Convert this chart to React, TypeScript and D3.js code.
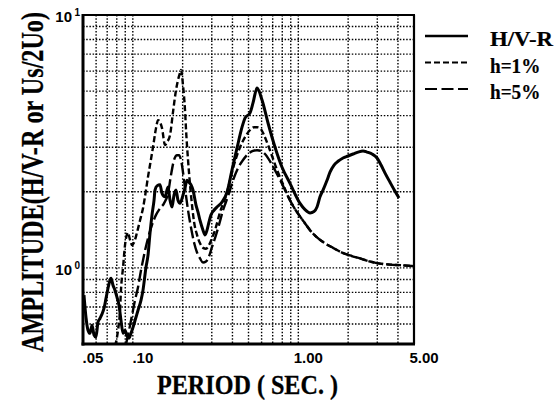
import React from "react";
import * as d3 from "d3";

// ---- Data (period in seconds, amplitude ratio) ----
const hvrPeriods = [
  0.0507, 0.0522, 0.0536, 0.0551, 0.0567, 0.0583, 0.0599, 0.0616, 0.0634, 0.0651,
  0.067, 0.0689, 0.0708, 0.0728, 0.0738, 0.0759, 0.078, 0.0802, 0.0825, 0.0848,
  0.0873, 0.0897, 0.0923, 0.0949, 0.0975, 0.1003, 0.1045, 0.1075, 0.1121, 0.1152,
  0.1201, 0.1235, 0.127, 0.1306, 0.1343, 0.1362, 0.14, 0.146, 0.1501, 0.1565,
  0.1632, 0.1678, 0.1725, 0.1774, 0.1824, 0.1875, 0.1928, 0.201, 0.2067, 0.2126,
  0.2186, 0.2248, 0.2311, 0.2409, 0.2477, 0.2547, 0.2655, 0.273, 0.2807, 0.2886,
  0.2968, 0.3094, 0.3226, 0.3459, 0.3709, 0.3976, 0.4263, 0.4569, 0.4764, 0.5107,
  0.5324, 0.5628, 0.6035, 0.656, 0.7232, 0.7972, 0.8908, 1.024, 1.098, 1.177,
  1.244, 1.297, 1.352, 1.41, 1.491, 1.554, 1.644, 1.738, 1.863, 1.997,
  2.141, 2.295, 2.46, 2.601, 2.789, 2.989, 3.161, 3.342, 3.582, 3.839, 4.059,
];
const hvrAmps = [
  0.78, 0.632, 0.567, 0.551, 0.593, 0.542, 0.532, 0.61, 0.632, 0.656,
  0.693, 0.759, 0.831, 0.894, 0.91, 0.854, 0.816, 0.766, 0.712, 0.621,
  0.551, 0.567, 0.537, 0.527, 0.551, 0.582, 0.638, 0.68, 0.745, 0.816,
  1.006, 1.12, 1.37, 1.62, 1.85, 2.03, 2.11, 2.13, 1.97, 1.91,
  2.09, 1.85, 1.74, 1.94, 2.03, 1.85, 1.8, 1.94, 2.07, 2.22,
  2.18, 2.13, 2.03, 1.77, 1.66, 1.54, 1.41, 1.35, 1.41, 1.52,
  1.62, 1.69, 1.74, 1.82, 1.99, 2.44, 2.98, 3.6, 3.91, 4.1,
  4.49, 5.14, 4.61, 3.74, 3.0, 2.5, 2.16, 1.8, 1.7, 1.65,
  1.67, 1.74, 1.91, 2.03, 2.22, 2.39, 2.55, 2.64, 2.72, 2.77,
  2.82, 2.87, 2.9, 2.87, 2.82, 2.72, 2.55, 2.37, 2.18, 2.01, 1.89,
];

const h1Periods = [
  0.078, 0.0814, 0.0837, 0.0848, 0.0873, 0.0897, 0.0923, 0.0935, 0.0962, 0.0989,
  0.1017, 0.106, 0.1105, 0.1152, 0.1201, 0.1235, 0.127, 0.1324, 0.1381, 0.142,
  0.146, 0.1501, 0.1565, 0.1609, 0.1678, 0.1749, 0.1824, 0.1875, 0.1928, 0.1955,
  0.201, 0.2067, 0.2097, 0.2156, 0.2217, 0.2279, 0.2344, 0.2443, 0.2547, 0.2655,
  0.2768, 0.2886, 0.3009, 0.3138, 0.3363, 0.3709, 0.4032, 0.4444, 0.4764, 0.5107,
  0.5399, 0.5628, 0.5869, 0.6205, 0.656, 0.6936, 0.7436, 0.8085, 0.8908, 0.982,
  1.082, 1.177, 1.297, 1.45, 1.621, 1.837, 2.053, 2.36, 2.712, 3.117,
  3.582, 4.117, 5.0,
];
const h1Amps = [
  0.49, 0.567, 0.68, 0.816, 1.006, 1.23, 1.36, 1.38, 1.29, 1.23,
  1.26, 1.38, 1.54, 1.72, 2.03, 2.29, 2.55, 3.0, 3.57, 3.84,
  3.77, 3.57, 3.06, 3.14, 3.35, 4.13, 5.05, 5.53, 5.9, 6.06,
  5.28, 4.21, 3.51, 2.67, 2.13, 1.77, 1.52, 1.35, 1.25, 1.2,
  1.19, 1.23, 1.31, 1.41, 1.66, 1.99, 2.48, 3.0, 3.29, 3.51,
  3.6, 3.6, 3.57, 3.35, 3.06, 2.77, 2.44, 2.14, 1.85, 1.66,
  1.52, 1.41, 1.32, 1.25, 1.2, 1.15, 1.12, 1.09, 1.06, 1.04,
  1.03, 1.025, 1.016,
];

const h5Periods = [
  0.091, 0.0949, 0.0989, 0.1031, 0.1075, 0.1121, 0.1168, 0.1235, 0.1306, 0.1381,
  0.146, 0.1543, 0.1632, 0.1701, 0.1774, 0.1849, 0.1902, 0.1955, 0.201, 0.2067,
  0.2156, 0.2248, 0.2344, 0.2443, 0.2547, 0.2655, 0.2768, 0.2886, 0.3009, 0.3138,
  0.3317, 0.3508, 0.3761, 0.4032, 0.4322, 0.4634, 0.4967, 0.5324, 0.5628, 0.595,
  0.6292, 0.6745, 0.7334, 0.8085, 0.8908, 0.982, 1.082, 1.177, 1.297, 1.45,
  1.621, 1.837, 2.053, 2.36, 2.712, 3.117, 3.582, 4.117, 5.0,
];
const h5Amps = [
  0.499, 0.567, 0.65, 0.745, 0.839, 0.979, 1.12, 1.31, 1.48, 1.62,
  1.72, 1.8, 1.97, 2.33, 2.67, 2.79, 2.79, 2.67, 2.39, 2.07,
  1.69, 1.44, 1.26, 1.15, 1.09, 1.05, 1.06, 1.11, 1.21, 1.31,
  1.48, 1.69, 1.92, 2.22, 2.48, 2.67, 2.82, 2.9, 2.92, 2.9,
  2.82, 2.64, 2.39, 2.11, 1.85, 1.66, 1.52, 1.41, 1.32, 1.25,
  1.2, 1.15, 1.12, 1.09, 1.06, 1.04, 1.03, 1.025, 1.016,
];

const xDomain = [0.05, 5];
const yDomain = [0.5, 10];
const xTickValues = [0.05, 0.1, 1, 5];
const xTickLabels = [".05", ".10", "1.00", "5.00"];
const xGridValues = [0.06, 0.07, 0.08, 0.09, 0.1, 0.2, 0.3, 0.4, 0.5, 0.6, 0.7, 0.8, 0.9, 1, 2, 3, 4];
const yTickValues = [1, 10];
const yTickExponents = ["0", "1"];
const yGridValues = [0.6, 0.7, 0.8, 0.9, 1, 2, 3, 4, 5, 6, 7, 8, 9];
const legendLabels = ["H/V-R", "h=1%", "h=5%"];
const xTitle = "PERIOD ( SEC. )";
const yTitle = "AMPLITUDE(H/V-R or Us/2Uo)";

// ---- Layout ----
const W = 558;
const H = 400;
const L = 83;
const R = 414;
const T = 15;
const B = 344;

const dashes = ["none", "6,3", "12,4"];
const widths = [3, 2.4, 2.4];

export default function App() {
  const x = d3.scaleLog().domain(xDomain).range([L, R]);
  const y = d3.scaleLog().domain(yDomain).range([B, T]);
  const line = d3
    .line<[number, number]>()
    .x((d) => x(d[0]))
    .y((d) => y(d[1]))
    .curve(d3.curveMonotoneX);

  const series = [
    d3.zip(hvrPeriods, hvrAmps) as [number, number][],
    d3.zip(h1Periods, h1Amps) as [number, number][],
    d3.zip(h5Periods, h5Amps) as [number, number][],
  ];

  const serifFont = "'Liberation Serif', 'DejaVu Serif', 'Times New Roman', serif";
  const sansFont = "'Liberation Sans', Arial, sans-serif";

  const yTitleScale = 0.75;

  return (
    <svg
      width={W}
      height={H}
      viewBox={`0 0 ${W} ${H}`}
      style={{ position: "absolute", left: 0, top: 0, background: "#fff" }}
    >
      <defs>
        <clipPath id="plotClip">
          <rect x={L} y={T} width={R - L} height={B - T} />
        </clipPath>
      </defs>
      <rect x={0} y={0} width={W} height={H} fill="#fff" />

      {/* grid */}
      <g stroke="#000" strokeWidth={1.4} strokeDasharray="1.5,1.7">
        {xGridValues.map((v) => (
          <line key={"gx" + v} x1={x(v)} x2={x(v)} y1={T} y2={B} />
        ))}
        {yGridValues.map((v) => (
          <line key={"gy" + v} x1={L} x2={R} y1={y(v)} y2={y(v)} />
        ))}
      </g>

      {/* curves */}
      <g clipPath="url(#plotClip)" fill="none" stroke="#000" strokeLinejoin="round">
        {series.map((s, i) => (
          <path
            key={"s" + i}
            d={line(s) || ""}
            strokeWidth={widths[i]}
            strokeDasharray={dashes[i]}
          />
        ))}
      </g>

      {/* frame */}
      <g stroke="#000" fill="none">
        <line x1={L} x2={L} y1={T - 1} y2={B + 1.5} strokeWidth={3} />
        <line x1={L - 1.5} x2={R + 1} y1={B} y2={B} strokeWidth={3} />
        <line x1={L} x2={R + 1} y1={T} y2={T} strokeWidth={2.2} />
        <line x1={R} x2={R} y1={T} y2={B} strokeWidth={2.2} />
      </g>

      {/* x tick labels */}
      <g fontFamily={sansFont} fontSize={15} fontWeight="bold" textAnchor="middle">
        {xTickValues.map((v, i) => (
          <text key={"xt" + v} x={x(v) + 10} y={363}>
            {xTickLabels[i]}
          </text>
        ))}
      </g>

      {/* y tick labels */}
      <g fontFamily={sansFont} fontWeight="bold">
        {yTickValues.map((v, i) => (
          <g key={"yt" + v}>
            <text x={72} y={y(v) + 7} fontSize={15} textAnchor="end">
              10
            </text>
            <text x={74.5} y={y(v) + 1} fontSize={10}>
              {yTickExponents[i]}
            </text>
          </g>
        ))}
      </g>

      {/* axis titles */}
      <text
        x={157}
        y={394}
        fontFamily={serifFont}
        fontWeight="bold"
        fontSize={27}
        stroke="#000"
        strokeWidth={0.3}
        textLength={181}
        lengthAdjust="spacingAndGlyphs"
      >
        {xTitle}
      </text>
      <text
        transform={`translate(43, 352) rotate(-90) scale(${yTitleScale}, 1)`}
        x={0}
        y={0}
        fontFamily={serifFont}
        fontWeight="bold"
        fontSize={32}
        stroke="#000"
        strokeWidth={0.3}
        textLength={340 / yTitleScale}
        lengthAdjust="spacingAndGlyphs"
      >
        {yTitle}
      </text>

      {/* legend */}
      <g>
        {legendLabels.map((lab, i) => {
          const ly = 36 + i * 26.5;
          return (
            <g key={"lg" + i}>
              <line
                x1={425}
                x2={468}
                y1={ly}
                y2={ly}
                stroke="#000"
                strokeWidth={i === 0 ? 2.5 : 2.2}
                strokeDasharray={i === 0 ? "none" : i === 1 ? "6,3" : "12,4.5"}
              />
              <text
                x={490}
                y={ly + 10}
                fontFamily={serifFont}
                fontWeight="bold"
                fontSize={21}
                stroke="#000"
                strokeWidth={0.2}
                textLength={lab.length * 12.6}
                lengthAdjust="spacingAndGlyphs"
              >
                {lab}
              </text>
            </g>
          );
        })}
      </g>
    </svg>
  );
}
